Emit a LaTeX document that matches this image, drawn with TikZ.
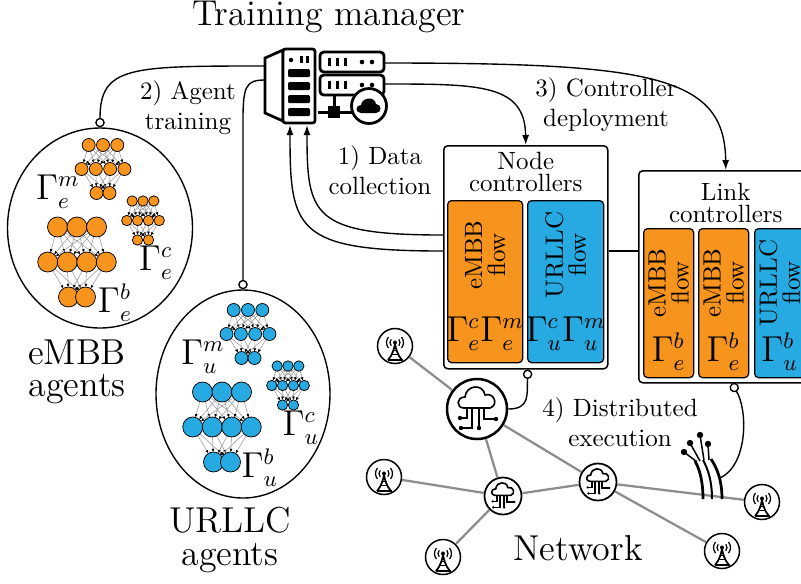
\documentclass[tikz,border=0pt]{standalone}
\usepackage{tikz}
\usetikzlibrary{arrows.meta,positioning,calc,shapes.geometric}
\usepackage{xcolor}

\definecolor{embbor}{RGB}{247,148,30}
\definecolor{urllcbl}{RGB}{39,170,225}

\tikzset{
  lbl/.style={font=\normalsize, align=center, inner sep=0pt},
  biglbl/.style={font=\fontsize{14.4}{13}\selectfont, align=center, inner sep=0pt},
  ctrltitle/.style={font=\fontsize{10}{9}\selectfont, align=center, inner sep=0pt},
  gamma/.style={font=\fontsize{13.5}{15}\selectfont, inner sep=0pt},
  ctrlbox/.style={draw, rounded corners=1.6pt, line width=0.6pt, fill=white, inner sep=0pt, anchor=north west},
  flowbox/.style={draw, rounded corners=1.6pt, line width=0.5pt, inner sep=0pt, anchor=north west},
  flowtxt/.style={font=\fontsize{10}{9.2}\selectfont, align=center, rotate=90, inner sep=0pt},
  agent/.style={draw, ellipse, line width=0.55pt, inner sep=0pt},
  conn/.style={line width=0.55pt},
  push/.style={conn, -{Latex[length=4pt,width=2.8pt]}},
  pinned/.style={conn, -{Circle[open,fill=white,length=3.8pt,width=3.8pt]}},
  netedge/.style={draw=black!45, line width=0.9pt},
  synapse/.style={draw=black!40, line width=0.22pt, -{Latex[length=1.3pt,width=1.2pt,color=black]}},
  srvline/.style={line width=1.1pt},
  antnode/.style={circle, draw, fill=white, line width=0.6pt, minimum size=14pt, inner sep=0pt},
  hubnode/.style={circle, draw, fill=white, line width=1pt, minimum size=24pt, inner sep=0pt},
  cloudnode/.style={circle, draw, fill=white, line width=0.7pt, minimum size=14.8pt, inner sep=0pt},
  % radio mast inside a circle
  tower/.pic={
    \draw[line width=0.7pt] (-7,14) .. controls (-2.5,9) and (-1,3) .. (0,-2)
      .. controls (1,3) and (2.5,9) .. (7,14);
    \draw[line width=0.9pt] (-7.5,14) -- (7.5,14);
    \draw[line width=0.6pt] (-3.8,8.5) -- (3.8,8.5) (-2.2,4.5) -- (2.2,4.5);
    \fill (0,-3.5) circle (2);
    \foreach \rr in {5,8.5} {
      \draw[line width=0.5pt] ([shift={(140:\rr)}]0,-3.5) arc[start angle=140, end angle=220, radius=\rr];
      \draw[line width=0.5pt] ([shift={(-40:\rr)}]0,-3.5) arc[start angle=-40, end angle=40, radius=\rr];
    }
  },
  % cloud with circuit traces
  cloudicon/.pic={
    \draw[line width=0.65pt] (-13,-1) .. controls (-21,-1) and (-21,-12) .. (-12,-12)
      .. controls (-11,-24) and (6,-26) .. (8,-14)
      .. controls (17,-17) and (22,-4) .. (13,-1) -- cycle;
    \draw[line width=0.65pt] (-10,-1) -- (-10,9) -- (-17,9)
      (-5,-1) -- (-5,19) -- (-16,19)
      (2,-1) -- (2,19)
      (7,-1) -- (7,10) -- (19,10);
    \foreach \d in {(-17,9),(-16,19),(2,19),(19,10)} \fill \d circle (2.2);
  }
}

% one feed-forward net: centre x, top y, spacing, layer gap, radius, bottom spacing
\newcommand\neuralnet[6]{%
  \foreach \ii in {-1,0,1}
    \foreach \jj in {-1.5,-0.5,0.5,1.5}
      \draw[synapse, shorten >=#5*0.4pt] ({#1+\ii*#3},#2) -- ({#1+\jj*#3},{#2+#4});
  \foreach \jj in {-1.5,-0.5,0.5,1.5}
    \foreach \kk in {-0.5,0.5}
      \draw[synapse, shorten >=#5*0.4pt] ({#1+\jj*#3},{#2+#4}) -- ({#1+\kk*#6},{#2+2*#4});
  \foreach \ii in {-1,0,1} \draw[cell] ({#1+\ii*#3},#2) circle (#5);
  \foreach \jj in {-1.5,-0.5,0.5,1.5} \draw[cell] ({#1+\jj*#3},{#2+#4}) circle (#5);
  \foreach \kk in {-0.5,0.5} \draw[cell] ({#1+\kk*#6},{#2+2*#4}) circle (#5);
}

% the three agent nets of one slice
\newcommand\agentnets[2]{%
  \tikzset{cell/.style={draw=black, line width=0.3pt, fill=#1}}%
  \neuralnet{103}{145}{14.3}{24}{6.5}{13}
  \neuralnet{143}{201}{10.8}{19.5}{5.2}{11}
  \neuralnet{77}{227}{19.5}{35}{10}{17}
  \node[gamma] (gm#2) at (58,192) {$\Gamma_{#2}^m$};
  \node[gamma] (gc#2) at (156,263) {$\Gamma_{#2}^c$};
  \node[gamma] (gb#2) at (115,303) {$\Gamma_{#2}^b$};
}

\begin{document}
\begin{tikzpicture}[x=0.4pt, y=-0.4pt]
\useasboundingbox (0,0) rectangle (801,583);
\clip (0,0) rectangle (801,583);

% training manager
\node[font=\Large] (mgr) at (329,17) {Training manager};
\draw[srvline, fill=white] (265,58) -- (283,50) -- (283,121) -- (265,113) -- cycle;
\draw[srvline, fill=white, rounded corners=1pt] (283,49) rectangle (315,123);
\fill (291,60) circle (2.2);
\fill (300,56) rectangle (302.5,63);
\fill (306,56) rectangle (308.5,63);
\foreach \y in {69,82,95,108}
  \fill[rounded corners=0.5pt] (288,\y) rectangle (310,{\y+8});
\foreach \y in {52,75} {
  \draw[srvline, fill=white, rounded corners=1.5pt] (320,\y) rectangle (384,{\y+20});
  \foreach \x in {328,336,344} \fill (\x,{\y+6}) rectangle ({\x+3},{\y+14});
  \fill (362,{\y+10}) circle (2.3) (372,{\y+10}) circle (2.3);
}
\draw[line width=1.2pt] (334,95) -- (334,118) (318,112) -- (352,112);
\fill (328,106) rectangle (340,118);
\draw[srvline, fill=white] (369,106) circle (17.5);
\fill (361,113) .. controls (355,113) and (355,105) .. (361,105)
  .. controls (362,97) and (375,96) .. (376,104)
  .. controls (382,104) and (382,113) .. (376,113) -- cycle;
\coordinate (srv-w1) at (265,66);
\coordinate (srv-w2) at (265,80);
\coordinate (srv-s1) at (290,125);
\coordinate (srv-s2) at (307,125);
\coordinate (srv-e1) at (384,63);
\coordinate (srv-e2) at (384,84);

% agents
\node[agent, minimum width=74pt, minimum height=80pt] (embb) at (100,228) {};
\node[agent, minimum width=69.6pt, minimum height=83.2pt] (urllc) at (243,394) {};
\begin{scope}
  \agentnets{embbor}{e}
\end{scope}
\begin{scope}[shift={(145,165)}]
  \agentnets{urllcbl}{u}
\end{scope}
\node[biglbl] (embb-lbl) at (77,372) {eMBB\\agents};
\node[biglbl] (urllc-lbl) at (230,540) {URLLC\\agents};

% controllers
\node[ctrlbox, minimum width=65.6pt, minimum height=89.2pt] (nodebox) at (443,145) {};
\node[ctrltitle] at ($(nodebox.north)+(0,27)$) {Node\\controllers};
\node[flowbox, fill=embbor, minimum width=30pt, minimum height=64.8pt] (nfe) at (447,200) {};
\node[flowbox, fill=urllcbl, minimum width=30.4pt, minimum height=64.8pt] (nfu) at (527,200) {};
\node[flowtxt] at ($(nfe.north)+(0,55)$) {eMBB\\flow};
\node[flowtxt] at ($(nfu.north)+(0,55)$) {URLLC\\flow};
\node[gamma] at ($(nfe.south)+(0,-30)$) {$\Gamma_e^c\Gamma_e^m$};
\node[gamma] at ($(nfu.south)+(0,-30)$) {$\Gamma_u^c\Gamma_u^m$};

\node[ctrlbox, minimum width=69.6pt, minimum height=84.8pt] (linkbox) at (638,170) {};
\node[ctrltitle] at ($(linkbox.north)+(0,33)$) {Link\\controllers};
\node[flowbox, fill=embbor, minimum width=20pt, minimum height=59.6pt] (lfe1) at (643,228) {};
\node[flowbox, fill=embbor, minimum width=20pt, minimum height=59.6pt] (lfe2) at (698,228) {};
\node[flowbox, fill=urllcbl, minimum width=20pt, minimum height=59.6pt] (lfu) at (754,228) {};
\foreach \b/\t/\s in {lfe1/eMBB/e, lfe2/eMBB/e, lfu/URLLC/u} {
  \node[flowtxt] at ($(\b.north)+(0,55)$) {\t\\flow};
  \node[gamma] at ($(\b.south)+(0,-27)$) {$\Gamma_\s^b$};
}

% workflow arrows
\coordinate (dc1) at (443,235);
\coordinate (dc2) at (443,251);
\draw[pinned] (srv-w1) .. controls (130,66) and (100,66) .. (embb.north);
\draw[pinned] (srv-w2) .. controls (246,80) and (243,86) .. (243,120) -- (urllc.north);
\draw[push] (dc1) .. controls (312,235) and (307,215) .. (srv-s2);
\draw[push] (dc2) .. controls (295,251) and (290,230) .. (srv-s1);
\draw[conn] (linkbox.west |- dc2) -- (nodebox.east |- dc2);
\draw[push] (srv-e2) .. controls (480,84) and (525,84) .. (nodebox.north);
\draw[push] (srv-e1) .. controls (650,63) and (725,75) .. (linkbox.north);

\node[lbl] (step1) at (380,170) {1) Data\\collection};
\node[lbl] (step2) at (188,108) {2) Agent\\training};
\node[lbl] (step3) at (606,105) {3) Controller\\deployment};
\node[lbl] (step4) at (620,422) {4) Distributed\\execution};

% network
\node[antnode] (a1) at (395,346) {};
\node[antnode] (a2) at (384,477) {};
\node[antnode] (a3) at (443,557) {};
\node[antnode] (a4) at (762,502) {};
\node[antnode] (a5) at (722,551) {};
\node[hubnode] (hub) at (477,409) {};
\node[cloudnode] (c1) at (503,496) {};
\node[cloudnode] (c2) at (598,482) {};
\foreach \u/\v in {a1/hub, hub/c1, hub/c2, a2/c1, c1/c2, c1/a3, c2/a4, c2/a5}
  \draw[netedge] (\u) -- (\v);
\foreach \n in {a1,a2,a3,a4,a5} \pic at (\n) {tower};
\pic at (hub) {cloudicon};
\pic[scale=0.6] at (c1) {cloudicon};
\pic[scale=0.6] at (c2) {cloudicon};
\node[font=\Large] (net) at (578,548) {Network};

% fibre bundle
\draw[line width=1.1pt] (703,499) .. controls (703,482) and (700,470) .. (695,461);
\draw[line width=1.1pt] (722,499) .. controls (722,480) and (717,468) .. (711,459);
\draw[line width=0.8pt] (712,499) .. controls (712,481) and (708,469) .. (703,460);
\draw[line width=0.6pt] (697,462) -- (684,452) (700,461) -- (690,443)
  (704,460) -- (700,435) (709,460) -- (708,444);
\foreach \d in {(684,452),(690,443),(700,435),(708,444)} \fill \d circle (3.2);
\coordinate (fib-top) at (720,478);

% execution pins
\draw[pinned] (hub.east) .. controls (530,409) and (527,395) .. ($(nodebox.south)+(2,0)$);
\draw[pinned] (fib-top) .. controls (748,465) and (748,410) .. ($(linkbox.south)+(6,0)$);
\end{tikzpicture}
\end{document}
